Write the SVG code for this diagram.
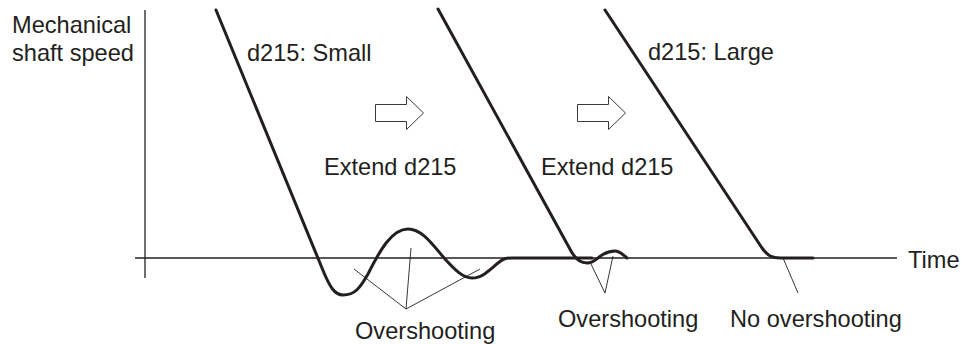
<svg xmlns="http://www.w3.org/2000/svg" width="962" height="344" viewBox="0 0 962 344">
  <style>
    text { font-family: "Liberation Sans", Arial, sans-serif; font-size: 23.6px; fill: #231f20; }
    .axis { stroke: #231f20; stroke-width: 1.3; fill: none; }
    .curve { stroke: #231f20; stroke-width: 3; fill: none; stroke-linejoin: round; stroke-linecap: round; }
    .ptr { stroke: #231f20; stroke-width: 0.9; fill: none; }
    .harrow { fill: #ffffff; stroke: #3a3a3a; stroke-width: 1; }
  </style>
  <rect width="962" height="344" fill="#ffffff"/>

  <g id="axes">
    <line class="axis" x1="145" y1="10" x2="145" y2="278"/>
    <line class="axis" x1="135" y1="258" x2="897" y2="258"/>
  </g>

  <g id="labels-axes">
    <text x="12" y="33">Mechanical</text>
    <text x="12" y="61">shaft speed</text>
    <text x="908" y="268">Time</text>
  </g>

  <g id="curve-small">
    <path class="curve" d="M216,10 L322,268 C330,288 335,295 343,295 C355,295 360,288 368,274 C380,250 392,229 408,229 C422,229 432,244 445,259 C455,270 463,278 472,278 C482,278 490,270 498,263 C503,259 505,258 512,258 L592,258"/>
    <text x="247" y="61">d215: Small</text>
  </g>

  <g id="curve-medium">
    <path class="curve" d="M438,9 L571,251 C576,260 581,263 587,263 C594,263 597,258 602,255 C607,252 610,251 615,251 C620,251 623,255 627,258"/>
  </g>

  <g id="curve-large">
    <path class="curve" d="M605,10 L762,248 C768,256 772,258 780,258 L813,258"/>
    <text x="648" y="60">d215: Large</text>
  </g>

  <g id="step-1">
    <path class="harrow" d="M375.5,104.5 L406.5,104.5 L406.5,96.5 L423.5,113 L406.5,129.5 L406.5,121.5 L375.5,121.5 Z"/>
    <text x="324" y="175">Extend d215</text>
  </g>

  <g id="step-2">
    <path class="harrow" d="M577.5,104.5 L608.5,104.5 L608.5,96.5 L625.5,113 L608.5,129.5 L608.5,121.5 L577.5,121.5 Z"/>
    <text x="541" y="175">Extend d215</text>
  </g>

  <g id="connectors">
    <polyline class="ptr" points="354,269 406,309 411,248"/>
    <line class="ptr" x1="406" y1="309" x2="480" y2="269"/>
    <polyline class="ptr" points="590,262 605,293 613,256"/>
    <line class="ptr" x1="783" y1="258" x2="798" y2="293"/>
  </g>

  <g id="annotations">
    <text x="355" y="339">Overshooting</text>
    <text x="558" y="327">Overshooting</text>
    <text x="730" y="327">No overshooting</text>
  </g>
</svg>
